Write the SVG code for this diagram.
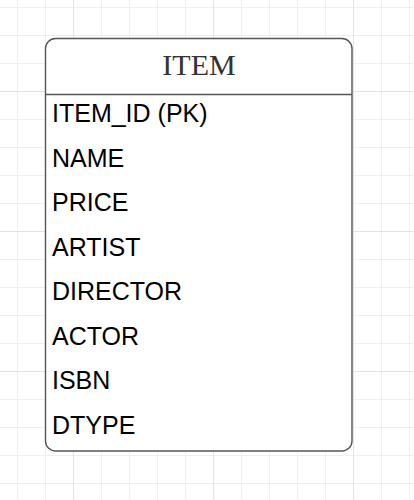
<svg xmlns="http://www.w3.org/2000/svg" width="414" height="500" viewBox="0 0 414 500">
<style>
.minor{stroke:#efefef;stroke-width:1;fill:none}
.major{stroke:#e2e2e2;stroke-width:1;fill:none}
.box{fill:#ffffff;stroke:#555555;stroke-width:1.4}
.title{font-family:"Liberation Serif","Times New Roman",serif;font-size:30px;fill:#333333;text-anchor:middle}
.row{font-family:"Liberation Sans",Arial,sans-serif;font-size:25px;fill:#000000}
</style>
<rect x="0" y="0" width="414" height="500" fill="#ffffff"/>
<g id="grid">
<path class="minor" d="M17.5 0V500M45.5 0V500M101.5 0V500M129.5 0V500M157.5 0V500M185.5 0V500M241.5 0V500M269.5 0V500M297.5 0V500M325.5 0V500M381.5 0V500M409.5 0V500M0 7.5H414M0 35.5H414M0 63.5H414M0 119.5H414M0 147.5H414M0 175.5H414M0 203.5H414M0 259.5H414M0 287.5H414M0 315.5H414M0 343.5H414M0 399.5H414M0 427.5H414M0 455.5H414M0 483.5H414"/>
<path class="major" d="M73.5 0V500M213.5 0V500M353.5 0V500M0 91.5H414M0 231.5H414M0 371.5H414"/>
</g>
<g id="item">
<rect class="box" x="45.5" y="38.5" width="306.5" height="412.5" rx="10" ry="10"/>
<line x1="45.5" y1="94.5" x2="352" y2="94.5" stroke="#555555" stroke-width="1.4"/>
<text class="title" x="199" y="75">ITEM</text>
<text class="row" x="52" y="122">ITEM_ID (PK)</text>
<text class="row" x="52" y="166.6">NAME</text>
<text class="row" x="52" y="211.1">PRICE</text>
<text class="row" x="52" y="255.7">ARTIST</text>
<text class="row" x="52" y="300.3">DIRECTOR</text>
<text class="row" x="52" y="344.9">ACTOR</text>
<text class="row" x="52" y="389.4">ISBN</text>
<text class="row" x="52" y="434">DTYPE</text>
</g>
<g id="connectors"></g>
</svg>
